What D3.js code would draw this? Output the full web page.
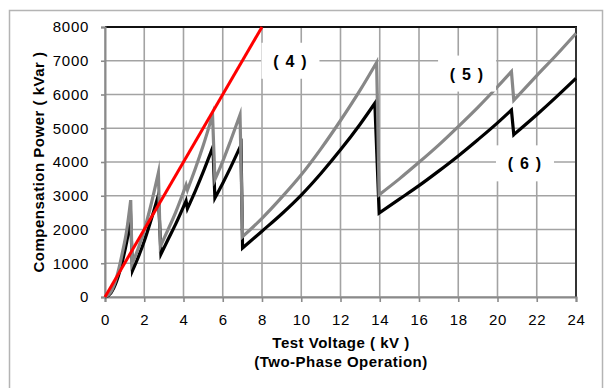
<!DOCTYPE html>
<html>
<head>
<meta charset="utf-8">
<script src="https://cdn.jsdelivr.net/npm/d3@7"></script>
<style>
  html, body { margin: 0; padding: 0; background: #fff; }
  svg { display: block; font-family: "Liberation Sans", Arial, sans-serif; }
</style>
</head>
<body>
<svg id="chart" width="605" height="388"></svg>
<script>
// Axis ticks
const xTicks = [0, 2, 4, 6, 8, 10, 12, 14, 16, 18, 20, 22, 24];
const yTicks = [0, 1000, 2000, 3000, 4000, 5000, 6000, 7000, 8000];

// (4): straight reference line, kVar vs kV
const series4 = [[0, 0], [8, 8000]];

// (5): compensation power with tap changes (grey)
const series5 = [
  [0, 0], [0.3, 150], [0.6, 600], [0.9, 1350], [1.1, 1950], [1.31, 2870],
  [1.38, 980], [1.7, 1450], [2.0, 1980], [2.3, 2630], [2.72, 3680],
  [2.82, 1500], [3.2, 1980], [3.6, 2510], [4.13, 3320],
  [4.2, 3170], [4.6, 3800], [5.0, 4480], [5.48, 5390],
  [5.6, 3480], [6.0, 4020], [6.4, 4630], [6.88, 5400],
  [7.01, 1790], [8, 2330], [9, 2950], [10, 3620], [11, 4390], [12, 5230], [13, 6130], [13.84, 6950],
  [13.97, 3030], [15, 3500], [16, 3990], [17, 4500], [18, 5050], [19, 5620], [20, 6230], [20.71, 6680],
  [20.83, 5830], [22, 6560], [23, 7170], [24, 7810]
];

// (6): compensation power with tap changes (black)
const series6 = [
  [0, 0], [0.3, 120], [0.6, 480], [0.9, 1090], [1.1, 1620], [1.31, 2300],
  [1.4, 780], [1.7, 1190], [2.0, 1650], [2.3, 2190], [2.72, 3020],
  [2.85, 1270], [3.2, 1690], [3.6, 2160], [4.13, 2850],
  [4.2, 2620], [4.6, 3140], [5.0, 3700], [5.5, 4450],
  [5.6, 2930], [6.0, 3370], [6.4, 3840], [6.93, 4500],
  [7.01, 1450], [8, 1950], [9, 2460], [10, 3020], [11, 3660], [12, 4360], [13, 5120], [13.75, 5740],
  [13.97, 2490], [15, 2900], [16, 3300], [17, 3730], [18, 4180], [19, 4660], [20, 5160], [20.71, 5540],
  [20.83, 4810], [22, 5400], [23, 5930], [24, 6480]
];

// Curve labels, placed at data coordinates
const labels = [
  { text: "( 4 )", v: 9.45, p: 7000 },
  { text: "( 5 )", v: 18.45, p: 6620 },
  { text: "( 6 )", v: 21.4, p: 3960 }
];

const svg = d3.select("#chart");

// outer frame
svg.append("rect")
  .attr("x", 9.5).attr("y", 10.5).attr("width", 593).attr("height", 400)
  .attr("fill", "none").attr("stroke", "#b4b4b4").attr("stroke-width", 1.5);

const x = d3.scaleLinear().domain([0, 24]).range([105, 576]);
const y = d3.scaleLinear().domain([0, 8000]).range([297, 27]);

// grid
const grid = svg.append("g").attr("stroke", "#a3a3a3").attr("stroke-width", 1.6);
grid.selectAll("line.v").data(xTicks).join("line").attr("class", "v")
  .attr("x1", d => x(d)).attr("x2", d => x(d)).attr("y1", y(0)).attr("y2", y(8000));
grid.selectAll("line.h").data(yTicks).join("line").attr("class", "h")
  .attr("x1", x(0)).attr("x2", x(24)).attr("y1", d => y(d)).attr("y2", d => y(d));

// plot border: dark top and right edges
svg.append("line").attr("x1", x(0)).attr("x2", x(24) + 1).attr("y1", y(8000)).attr("y2", y(8000))
  .attr("stroke", "#111").attr("stroke-width", 1.8);
svg.append("line").attr("x1", x(24)).attr("x2", x(24)).attr("y1", y(8000)).attr("y2", y(0))
  .attr("stroke", "#333").attr("stroke-width", 2);

// axes
const xAxis = svg.append("g").attr("transform", `translate(0,${y(0)})`)
  .call(d3.axisBottom(x).tickValues(xTicks).tickSize(5).tickPadding(12).tickFormat(d3.format("d")));
const yAxis = svg.append("g").attr("transform", `translate(${x(0)},0)`)
  .call(d3.axisLeft(y).tickValues(yTicks).tickSize(4).tickPadding(12).tickFormat(d3.format("d")));
[xAxis, yAxis].forEach(a => {
  a.select(".domain").attr("stroke", "#8a8a8a").attr("stroke-width", 2);
  a.selectAll(".tick line").attr("stroke", "#8a8a8a").attr("stroke-width", 1.6);
  a.selectAll(".tick text").attr("fill", "#000").style("font-size", "15px")
    .style("font-family", "'Liberation Sans', Arial, sans-serif").attr("letter-spacing", "0.7px");
});

// axis titles
const titleStyle = sel => sel.style("font-size", "15px").style("font-weight", "bold")
  .attr("letter-spacing", "0.5px").attr("text-anchor", "middle");
svg.append("text").attr("x", 341).attr("y", 348).call(titleStyle).text("Test Voltage ( kV )");
svg.append("text").attr("x", 341).attr("y", 367).call(titleStyle).text("(Two-Phase Operation)");
svg.append("text")
  .attr("transform", `translate(44,${(y(0) + y(8000)) / 2}) rotate(-90)`)
  .call(titleStyle).text("Compensation Power ( kVar )");

// Each rising run is smoothed; drops between runs are straight strokes.
const runLine = d3.line().x(d => x(d[0])).y(d => y(d[1])).curve(d3.curveMonotoneX);
function sawPath(points) {
  const runs = [];
  let cur = [points[0]];
  for (let i = 1; i < points.length; i++) {
    if (points[i][1] < points[i - 1][1]) { runs.push(cur); cur = [points[i]]; }
    else cur.push(points[i]);
  }
  runs.push(cur);
  return runs.map((r, i) => {
    const s = runLine(r);
    return i === 0 ? s : "L" + s.slice(1);
  }).join("");
}

const plot = svg.append("g");
plot.append("path").attr("d", sawPath(series6))
  .attr("fill", "none").attr("stroke", "#000").attr("stroke-width", 3.2)
  .attr("stroke-linejoin", "miter").attr("stroke-miterlimit", 10);
plot.append("path").attr("d", sawPath(series5))
  .attr("fill", "none").attr("stroke", "#878787").attr("stroke-width", 3.2)
  .attr("stroke-linejoin", "miter").attr("stroke-miterlimit", 10);
plot.append("path").attr("d", d3.line().x(d => x(d[0])).y(d => y(d[1]))(series4))
  .attr("fill", "none").attr("stroke", "#ff0000").attr("stroke-width", 3);

// curve labels on white boxes
const lab = svg.append("g");
labels.forEach(l => {
  const cx = x(l.v), cy = y(l.p);
  lab.append("rect").attr("x", cx - 29).attr("y", cy - 18).attr("width", 58).attr("height", 36)
    .attr("fill", "#fff");
  lab.append("text").attr("x", cx).attr("y", cy + 6).attr("text-anchor", "middle")
    .style("font-size", "16px").style("font-weight", "bold").attr("letter-spacing", "1.2px")
    .text(l.text);
});
</script>
</body>
</html>
